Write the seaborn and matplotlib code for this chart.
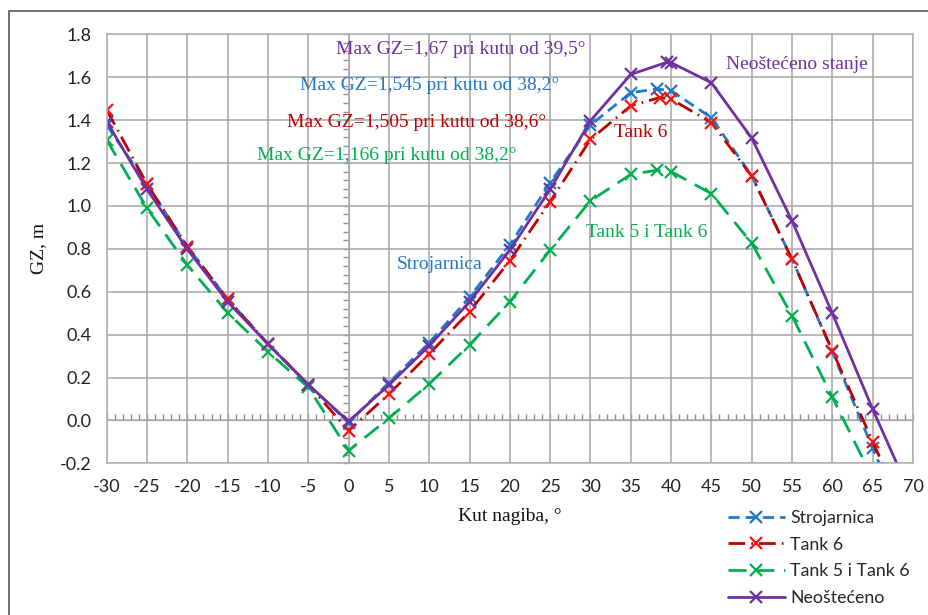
import matplotlib
matplotlib.use('Agg')
import matplotlib.pyplot as plt
import seaborn as sns
import pandas as pd
from matplotlib.patches import Rectangle

# data (angle in degrees, GZ in m)
angle_stroj = [-30, -25, -20, -15, -10, -5, 0, 5, 10, 15, 20, 25, 30, 35, 38.2, 40, 45, 50, 55, 60, 65, 70]
gz_stroj = [1.377, 1.100, 0.810, 0.565, 0.357, 0.167, -0.010, 0.176, 0.362, 0.574, 0.818, 1.108, 1.377,
            1.528, 1.545, 1.537, 1.411, 1.140, 0.752, 0.320, -0.130, -0.56]

angle_tank6 = [-30, -25, -20, -15, -10, -5, 0, 5, 10, 15, 20, 25, 30, 35, 38.6, 40, 45, 50, 55, 60, 65, 70]
gz_tank6 = [1.447, 1.102, 0.810, 0.565, 0.357, 0.167, -0.048, 0.123, 0.310, 0.507, 0.745, 1.020, 1.310,
            1.467, 1.505, 1.498, 1.388, 1.139, 0.751, 0.325, -0.099, -0.52]

angle_tank56 = [-30, -25, -20, -15, -10, -5, 0, 5, 10, 15, 20, 25, 30, 35, 38.2, 40, 45, 50, 55, 60, 65, 70]
gz_tank56 = [1.307, 0.989, 0.724, 0.502, 0.320, 0.154, -0.141, 0.010, 0.170, 0.352, 0.553, 0.794, 1.024,
             1.147, 1.166, 1.160, 1.057, 0.826, 0.487, 0.108, -0.27, -0.65]

angle_neo = [-30, -25, -20, -15, -10, -5, 0, 5, 10, 15, 20, 25, 30, 35, 39.5, 40, 45, 50, 55, 60, 65, 70]
gz_neo = [1.393, 1.077, 0.798, 0.553, 0.356, 0.167, -0.005, 0.165, 0.348, 0.553, 0.794, 1.077, 1.397,
          1.613, 1.670, 1.668, 1.574, 1.316, 0.930, 0.499, 0.052, -0.37]

x_ticks = list(range(-30, 71, 5))
y_ticks = [-0.2, 0.0, 0.2, 0.4, 0.6, 0.8, 1.0, 1.2, 1.4, 1.6, 1.8]

series = [
    ('Strojarnica', angle_stroj, gz_stroj, '#1f78c8', '#1f78c8', (0, (4, 2.2))),
    ('Tank 6', angle_tank6, gz_tank6, '#c00000', '#ff1010', (0, (6, 2.2, 0.6, 2.2))),
    ('Tank 5 i Tank 6', angle_tank56, gz_tank56, '#00b050', '#00b050', (0, (6.5, 3.5))),
    ('Neoštećeno', angle_neo, gz_neo, '#7030a0', '#7030a0', '-'),
]

sns.set_style('white')
plt.rcParams['font.family'] = ['Lato', 'DejaVu Sans']
plt.rcParams['axes.unicode_minus'] = False

fig = plt.figure(figsize=(9.29, 6.15), dpi=100)
ax = fig.add_axes([106.7 / 929, 1 - 463.3 / 615, (913 - 106.7) / 929, (463.3 - 34.3) / 615])

handles = []
for name, xs, ys, lc, mc, ls in series:
    df = pd.DataFrame({'angle': xs, 'gz': ys})
    sns.lineplot(data=df, x='angle', y='gz', ax=ax, color=lc, linewidth=2.0, linestyle=ls,
                 marker='x', markersize=8, markeredgewidth=1.6, markeredgecolor=mc,
                 sort=False, estimator=None, label=name)
    handles.append(ax.lines[-1])

ax.set_xlim(-30, 70)
ax.set_ylim(-0.2, 1.8)
ax.set_xticks(x_ticks)
ax.set_yticks(y_ticks)
ax.set_yticklabels([f'{v:.1f}' for v in y_ticks])
ax.tick_params(length=0, labelsize=13, colors='#222222', pad=11)
ax.grid(True, color='#a6a6a6', linewidth=1.1)
for sp in ax.spines.values():
    sp.set_color('#b0b0b0')
    sp.set_linewidth(1.1)

# axis lines through the origin with minor ticks
secx = ax.secondary_xaxis(0.1)
secx.set_xticks(range(-30, 71, 1))
secx.set_xticklabels([])
secx.tick_params(direction='in', length=4, width=1, color='#909090')
secx.spines['bottom'].set_color('#a6a6a6')
secy = ax.secondary_yaxis(0.3)
secy.set_yticks([round(-0.2 + 0.04 * i, 2) for i in range(51)])
secy.set_yticklabels([])
secy.tick_params(direction='out', length=4, width=1, color='#909090')
secy.spines['left'].set_color('#a6a6a6')

serif = ['Liberation Serif', 'DejaVu Serif']
ax.set_xlabel('Kut nagiba, °', family=serif, fontsize=14, color='#111111')
ax.set_ylabel('GZ, m', family=serif, fontsize=14, color='#111111')
ax.xaxis.set_label_coords(0.5, -0.105)
ax.yaxis.set_label_coords(-0.074, 0.5)

notes = [
    ('Max GZ=1,67 pri kutu od 39,5°', -1.5, 1.727, '#7030a0'),
    ('Max GZ=1,545 pri kutu od 38,2°', -6.0, 1.559, '#1f78c8'),
    ('Max GZ=1,505 pri kutu od 38,6°', -7.7, 1.388, '#c00000'),
    ('Max GZ=1,166 pri kutu od 38,2°', -11.4, 1.237, '#00b050'),
    ('Neoštećeno stanje', 46.8, 1.657, '#7030a0'),
    ('Tank 6', 32.9, 1.343, '#c00000'),
    ('Tank 5 i Tank 6', 29.4, 0.877, '#00b050'),
    ('Strojarnica', 5.95, 0.729, '#1f78c8'),
]
for txt, x, y, c in notes:
    ax.text(x, y, txt, color=c, family=serif, fontsize=14, ha='left', va='center')

ax.legend(handles=handles, labels=[s[0] for s in series], loc='upper left',
          bbox_to_anchor=(728 / 929, 1 - 510 / 615), bbox_transform=fig.transFigure,
          frameon=False, fontsize=12.8, handlelength=3.2, handletextpad=0.3,
          labelspacing=0.6, borderpad=0, borderaxespad=0)

# outer chart border
fig.patches.append(Rectangle((9 / 929, -0.1), 1.2, 1 - 11 / 615 + 0.1, transform=fig.transFigure,
                             fill=False, edgecolor='#6e6e6e', linewidth=1.4))

plt.savefig('out.png', dpi=100)
